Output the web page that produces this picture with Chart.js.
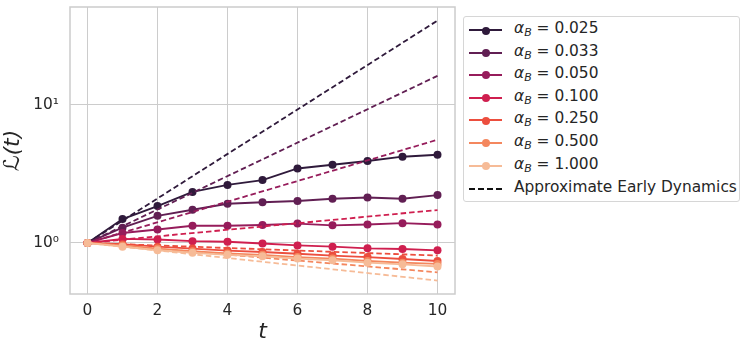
<!DOCTYPE html>
<html>
<head>
<meta charset="utf-8">
<script src="https://cdn.jsdelivr.net/npm/chart.js@4"></script>
<style>
  html, body { margin: 0; padding: 0; background: #ffffff; }
  #wrap { position: relative; width: 748px; height: 352px; font-family: "DejaVu Sans", sans-serif; }
  #legend { position: absolute; left: 463px; top: 16px; width: 277px; height: 186px;
    border: 1px solid #d6d6d6; border-radius: 3px; box-sizing: border-box; background: #fff; color: #262626; }
  .row { position: absolute; left: 0; height: 22px; width: 100%; font-size: 15.4px; }
  .swatch { position: absolute; left: 5px; top: 11px; width: 33px; height: 0; }
  .dot { position: absolute; left: 12.5px; top: -4.8px; width: 8px; height: 8px; border-radius: 50%; }
  .lbl { position: absolute; left: 50px; top: 1px; white-space: nowrap; }
  .lbl sub { font-size: 11px; vertical-align: -3px; font-style: italic; }
</style>
</head>
<body>
<div id="wrap">
  <canvas id="c" width="748" height="352"></canvas>
  <div id="legend"></div>
</div>
<script>
const t = [0, 1, 2, 3, 4, 5, 6, 7, 8, 9, 10];
const alphaLabels = ['0.025', '0.033', '0.050', '0.100', '0.250', '0.500', '1.000'];
const L025 = [1, 1.49, 1.85, 2.34, 2.63, 2.85, 3.46, 3.68, 3.92, 4.21, 4.35];
const L033 = [1, 1.29, 1.57, 1.74, 1.92, 1.97, 2.01, 2.09, 2.13, 2.09, 2.22];
const L050 = [1, 1.18, 1.25, 1.33, 1.33, 1.35, 1.38, 1.34, 1.36, 1.39, 1.36];
const L100 = [1, 1.07, 1.06, 1.03, 1.02, 0.99, 0.96, 0.94, 0.914, 0.905, 0.884];
const L250 = [1, 0.98, 0.94, 0.91, 0.88, 0.86, 0.835, 0.81, 0.79, 0.765, 0.74];
const L500 = [1, 0.96, 0.91, 0.87, 0.84, 0.82, 0.79, 0.77, 0.74, 0.72, 0.705];
const L1000 = [1, 0.94, 0.885, 0.85, 0.82, 0.80, 0.77, 0.75, 0.72, 0.70, 0.675];
const approxT = [0, 10];
const A025 = [1, 40.7];
const A033 = [1, 16.2];
const A050 = [1, 5.58];
const A100 = [1, 1.73];
const A250 = [1, 0.81];
const A500 = [1, 0.613];
const A1000 = [1, 0.534];
const xTicks = [0, 2, 4, 6, 8, 10];
const yTicks = [1, 10];
const yTickLabels = ['10\u2070', '10\u00b9'];
const approxLabel = 'Approximate Early Dynamics';

const colors = ['#2f1a3b', '#611f53', '#961c5b', '#cf1f4f', '#ec4e3e', '#f4875e', '#f6bb97'];
const series = [L025, L033, L050, L100, L250, L500, L1000];
const approx = [A025, A033, A050, A100, A250, A500, A1000];

const datasets = [];
const N = series.length;
series.forEach((s, i) => {
  datasets.push({
    label: 'alpha ' + alphaLabels[i],
    data: t.map((x, k) => ({x: x, y: s[k]})),
    borderColor: colors[i], backgroundColor: colors[i],
    borderWidth: 1.9, pointRadius: 4, pointBorderWidth: 0, pointHoverRadius: 4,
    order: 2 * (N - i), tension: 0
  });
  datasets.push({
    label: 'approx ' + alphaLabels[i],
    data: approxT.map((x, k) => ({x: x, y: approx[i][k]})),
    borderColor: colors[i], backgroundColor: colors[i],
    borderWidth: 1.8, borderDash: [5.5, 3], pointRadius: 0,
    order: 2 * (N - i) - 1, tension: 0
  });
});

const borderPlugin = {
  id: 'frame',
  afterDraw(chart) {
    const a = chart.chartArea, ctx = chart.ctx;
    ctx.save();
    ctx.strokeStyle = '#cccccc';
    ctx.lineWidth = 1.5;
    ctx.strokeRect(a.left, a.top, a.right - a.left, a.bottom - a.top);
    ctx.restore();
  }
};

new Chart(document.getElementById('c'), {
  type: 'line',
  data: { datasets },
  plugins: [borderPlugin],
  options: {
    responsive: false, animation: false,
    layout: { padding: { left: 0, right: 293, top: 7, bottom: 0 } },
    plugins: { legend: { display: false }, tooltip: { enabled: false } },
    scales: {
      x: {
        type: 'linear', min: -0.5, max: 10.5,
        afterBuildTicks: s => { s.ticks = xTicks.map(v => ({value: v})); },
        afterFit: s => { s.height = 58; s.paddingLeft = 0; s.paddingRight = 0; },
        grid: { color: '#cccccc', lineWidth: 1, drawTicks: false },
        border: { display: false },
        ticks: { color: '#262626', padding: 8, font: { family: 'DejaVu Sans', size: 15.4 }, maxRotation: 0,
          callback: v => String(v) },
        title: { display: true, text: 't', color: '#262626', padding: { top: 0, bottom: 7 },
          font: { family: 'DejaVu Sans', size: 22, style: 'italic' } }
      },
      y: {
        type: 'logarithmic', min: 0.427, max: 51,
        afterBuildTicks: s => { s.ticks = yTicks.map(v => ({value: v})); },
        afterFit: s => { s.width = 70; s.paddingTop = 0; s.paddingBottom = 0; },
        grid: { color: '#cccccc', lineWidth: 1, drawTicks: false },
        border: { display: false },
        ticks: { color: '#262626', padding: 11, font: { family: 'DejaVu Sans', size: 15.4 },
          callback: (v) => yTickLabels[yTicks.indexOf(v)] },
        title: { display: true, text: '\u2112(t)', color: '#262626', padding: { top: 0, bottom: 4 },
          font: { family: 'DejaVu Sans', size: 22, style: 'italic' } }
      }
    }
  }
});

// legend
const leg = document.getElementById('legend');
const rowCenters = [12.3, 34.7, 57, 79.7, 102.3, 125, 147.7, 170.5];
alphaLabels.forEach((lab, i) => {
  const r = document.createElement('div');
  r.className = 'row';
  r.style.top = (rowCenters[i] - 11) + 'px';
  r.innerHTML = '<div class="swatch" style="border-top:2px solid ' + colors[i] + '"><div class="dot" style="background:' + colors[i] + '"></div></div>' +
    '<div class="lbl"><i>\u03b1</i><sub>B</sub> = ' + lab + '</div>';
  leg.appendChild(r);
});
const r = document.createElement('div');
r.className = 'row';
r.style.top = (rowCenters[7] - 11) + 'px';
r.innerHTML = '<div class="swatch" style="border-top:2px dashed #111"></div><div class="lbl">' + approxLabel + '</div>';
leg.appendChild(r);
</script>
</body>
</html>
